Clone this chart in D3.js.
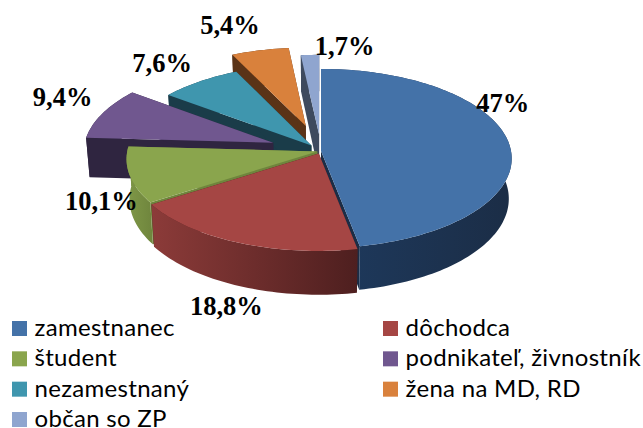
<!DOCTYPE html>
<html><head><meta charset="utf-8">
<script src="https://cdnjs.cloudflare.com/ajax/libs/d3/7.8.5/d3.min.js"></script>
<style>html,body{margin:0;padding:0;background:#fff}svg{display:block}</style>
</head><body><svg id="c" width="643" height="428"></svg>
<script>
const categories = ["zamestnanec","dôchodca","študent","podnikateľ, živnostník","nezamestnaný","žena na MD, RD","občan so ZP"];
const values = [47,18.8,10.1,9.4,7.6,5.4,1.7];
const valueLabels = ["47%","18,8%","10,1%","9,4%","7,6%","5,4%","1,7%"];
const faceColors = ["#4472a8","#a54644","#8aa54d","#70578f","#3f96ae","#d9813c","#8fa5cf"];
const wallFrom = ["#1e3a5e","#8c3b39","#7f9847","#2f2540","#1a3c49","#5a3317","#3e4a5e"];
const wallTo = ["#1b2d46","#4e1f1f","#6f853d","#2f2540","#1a3c49","#5a3317","#3e4a5e"];
const explode = [0,0.03,0.02,0.27,0.08,0.3,0.19];
const paintOrder = [6,5,4,3,2,0,1];
const labelOffset = [[-6,-31],[-14,75],[-32,36],[-85,-15],[-46,-14],[-43,-38],[33,-14]];

const cx=321, cy=151, R=190, Ry=88.9, k=0.0838, depth=40, shrink=0.985;
const sx=d3.scaleLinear().domain([-1,1]).range([cx-R,cx+R]);
const sy=d3.scaleLinear().domain([-1,1]).range([cy-Ry,cy+Ry]);
const svg=d3.select("#c");
const defs=svg.append("defs");
function proj(u,v,low){
  const p=1/(1-k*v);
  let x=cx+(sx(u)-cx)*p, y=cy+(sy(v)-cy)*p;
  if(low){x=cx+(x-cx)*shrink; y+=depth*p;}
  return [x,y];
}
const pie=d3.pie().sort(null).value(d=>d).startAngle(0).endAngle(2*Math.PI);
const arcs=pie(values);
const line=d3.line();
function ringPts(a,low){
  const mid=(a.startAngle+a.endAngle)/2, e=explode[a.index];
  const ox=e*Math.sin(mid), oy=-e*Math.cos(mid);
  const n=Math.max(4,Math.ceil((a.endAngle-a.startAngle)*40));
  const pts=d3.range(n+1).map(i=>{
    const t=a.startAngle+(a.endAngle-a.startAngle)*i/n;
    return proj(ox+Math.sin(t),oy-Math.cos(t),low);
  });
  return {pts,apex:proj(ox,oy,low)};
}
arcs.forEach(a=>{
  const g=defs.append("linearGradient").attr("id","w"+a.index);
  g.append("stop").attr("offset",0).attr("stop-color",wallFrom[a.index]);
  g.append("stop").attr("offset",1).attr("stop-color",wallTo[a.index]);
});
const order=paintOrder.map(i=>arcs[i]);
const sl=svg.selectAll("g.s").data(order).join("g").attr("class","s");
sl.each(function(a){
  const s=d3.select(this), t=ringPts(a,false), b=ringPts(a,true), i=a.index;
  const first=t.pts[0], last=t.pts[t.pts.length-1], bf=b.pts[0], bl=b.pts[b.pts.length-1];
  s.append("path").attr("d",line([t.apex,first,bf,b.apex])+"Z").attr("fill",wallTo[i]);
  s.append("path").attr("d",line([t.apex,last,bl,b.apex])+"Z").attr("fill",wallTo[i]);
  s.append("path").attr("d",line(t.pts.concat(b.pts.slice().reverse()))+"Z").attr("fill","url(#w"+i+")");
  s.append("path").attr("d",line([t.apex].concat(t.pts))+"Z").attr("fill",faceColors[i]);
});
svg.selectAll("text.v").data(arcs).join("text").attr("class","v")
  .attr("x",a=>{const m=(a.startAngle+a.endAngle)/2;return proj(Math.sin(m),-Math.cos(m))[0]+labelOffset[a.index][0];})
  .attr("y",a=>{const m=(a.startAngle+a.endAngle)/2;return proj(Math.sin(m),-Math.cos(m))[1]+labelOffset[a.index][1];})
  .attr("text-anchor","middle").attr("font-family","'Liberation Serif'").attr("font-weight","bold")
  .attr("font-size",26.5).attr("fill","#000").text((a)=>valueLabels[a.index]);

const legX=d3.scalePoint().domain([0,1]).range([12,383]);
const legY=d3.scalePoint().domain([0,1,2,3]).range([321,412]);
const leg=svg.selectAll("g.l").data(categories).join("g").attr("class","l")
  .attr("transform",(d,i)=>`translate(${legX(i%2==1&&i<6?1:0)},${legY(Math.floor(i/2))})`);
leg.append("rect").attr("width",15).attr("height",15).attr("fill",(d,i)=>faceColors[i]);
leg.append("text").attr("x",22.5).attr("y",15).attr("font-family","Lato").attr("font-size",24).attr("letter-spacing",0.3).attr("fill","#000").text(d=>d);
</script></body></html>
